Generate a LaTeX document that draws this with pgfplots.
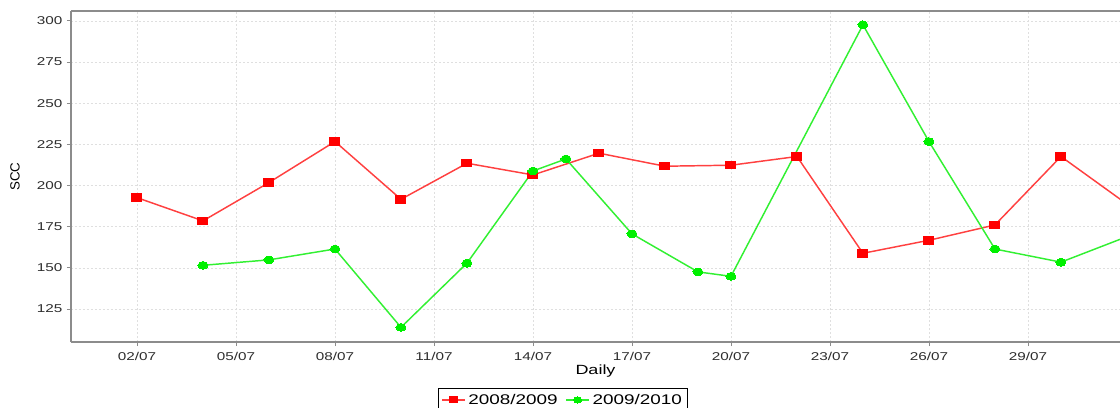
\documentclass[border=0pt]{standalone}
\usepackage{pgfplots}
\pgfplotsset{compat=1.18}
\usepackage{fontspec}
\setmainfont{Liberation Sans}
\definecolor{redline}{RGB}{255,64,64}
\definecolor{redmark}{RGB}{255,0,0}
\definecolor{greenline}{RGB}{50,240,50}
\definecolor{greenmark}{RGB}{0,240,0}
\definecolor{axgray}{RGB}{140,140,140}
\definecolor{txt}{RGB}{45,45,45}
\newcommand{\sx}[1]{\scalebox{1.35}[1]{#1}}
\begin{document}
\begin{tikzpicture}
\begin{axis}[
  at={(0,0)}, anchor=south west,
  scale only axis,
  width=786.75pt, height=248.25pt,
  xmin=0, xmax=31.79,
  ymin=104.9, ymax=306,
  axis lines=left,
  axis line style={-, axgray, line width=0.8pt},
  xtick={2,5,8,11,14,17,20,23,26,29},
  xticklabels={\sx{02/07},\sx{05/07},\sx{08/07},\sx{11/07},\sx{14/07},\sx{17/07},\sx{20/07},\sx{23/07},\sx{26/07},\sx{29/07}},
  ytick={125,150,175,200,225,250,275,300},
  yticklabel={\sx{\pgfmathprintnumber{\tick}}},
  tick align=outside,
  major tick length=3pt,
  tick style={axgray, line width=0.6pt},
  grid=major,
  grid style={gray!25, dash pattern=on 1.5pt off 1.5pt, line width=0.4pt},
  tick label style={font=\fontsize{8.5}{10}\selectfont, text=txt},
  /pgf/number format/assume math mode=true,
  xticklabel style={yshift=-1pt},
  xlabel={\sx{Daily}},
  ylabel={SCC},
  label style={font=\fontsize{10}{12}\selectfont, text=txt},
  every axis x label/.style={at={(axis description cs:0.5,0)}, yshift=-22pt, anchor=center},
  every axis y label/.style={at={(axis description cs:0,0.5)}, xshift=-42pt, rotate=90, anchor=center},
  legend style={at={(axis description cs:0.469,-0.139)}, anchor=north,
    draw=black, line width=0.8pt, font=\fontsize{10.5}{12}\selectfont,
    legend columns=2, inner sep=2pt,
    /tikz/every even column/.append style={column sep=4pt}},
  legend image post style={mark size=3pt},
  legend cell align=left,
]
\addplot[color=redline, line width=1.1pt, mark=square*, mark size=3.75pt,
  mark options={fill=redmark, draw=redmark, line width=0pt, yscale=0.75}]
coordinates {
(2,192.6) (4,178.5) (6,201.8) (8,226.7) (10,191.6) (12,213.5) (14,206.4)
(16,219.6) (18,211.7) (20,212.3) (22,217.6) (24,158.8) (26,166.7)
(28,176.0) (30,217.6) (32,188.7)
};
\addlegendentry{\sx{2008/2009}}
\addplot[color=greenline, line width=1.1pt, mark=*, mark size=3.75pt,
  mark options={fill=greenmark, draw=greenmark, line width=0pt, yscale=0.77}]
coordinates {
(4,151.5) (6,154.8) (8,161.4) (10,113.8) (12,152.8) (14,208.8) (15,216.1)
(17,170.6) (19,147.5) (20,144.8) (24,297.6) (26,226.7) (28,161.4)
(30,153.4) (32,168.9)
};
\addlegendentry{\sx{2009/2010}}
\draw[axgray, line width=0.8pt] (rel axis cs:0,1) -- (rel axis cs:1,1);
\end{axis}
\pgfresetboundingbox
\path (-53.25pt,-48.75pt) rectangle (786.75pt,256.5pt);
\end{tikzpicture}
\end{document}
